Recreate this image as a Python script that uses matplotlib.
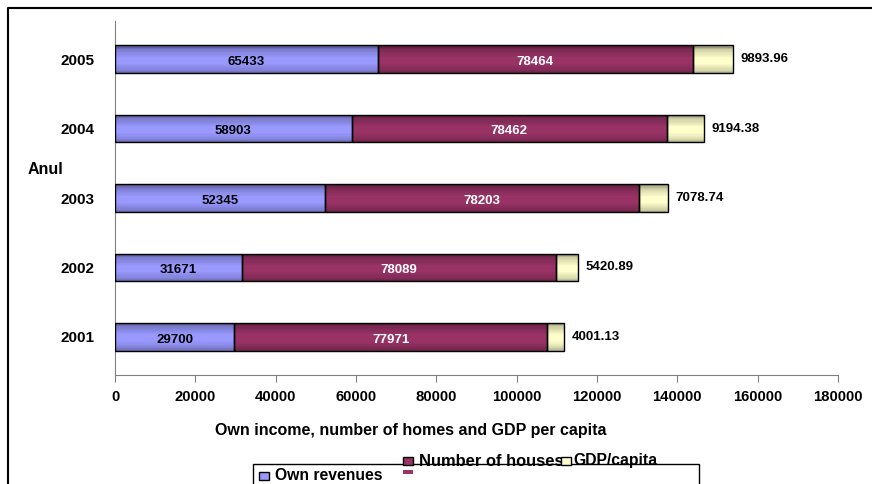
import matplotlib

matplotlib.use("Agg")
import matplotlib.pyplot as plt
import numpy as np
from matplotlib.lines import Line2D
from matplotlib.patches import Rectangle
from matplotlib.colors import to_rgb

plt.rcParams["font.family"] = ["Liberation Sans", "DejaVu Sans"]
plt.rcParams["font.weight"] = "bold"

years = ["2001", "2002", "2003", "2004", "2005"]
own_revenues = [29700, 31671, 52345, 58903, 65433]
houses = [77971, 78089, 78203, 78462, 78464]
gdp_capita = [4001.13, 5420.89, 7078.74, 9194.38, 9893.96]
series_names = ["Own revenues", "Number of houses", "GDP/capita"]
colors = ["#9999FF", "#993366", "#FFFFCC"]
x_ticks = [0, 20000, 40000, 60000, 80000, 100000, 120000, 140000, 160000, 180000]

W, H = 872, 484
fig = plt.figure(figsize=(W / 100, H / 100), dpi=100)
ax = fig.add_axes([115 / W, 1 - 375 / H, (838 - 115) / W, (375 - 21) / H])

ypos = np.arange(len(years))
bar_h = 0.4
# vertical shading of the bars, top to bottom
n_strips = 24
t = np.linspace(0, 1, n_strips)
shade = np.interp(t, [0, 0.12, 0.45, 0.65, 0.9, 1.0], [0.5, 0.8, 1.0, 1.0, 0.85, 0.7])


def gradient_bar(x0, width, y, color):
    rgb = np.array(to_rgb(color))
    strip_h = bar_h / n_strips
    top = y + bar_h / 2
    for k in range(n_strips):
        ax.barh(top - (k + 0.5) * strip_h, width, left=x0, height=strip_h * 1.05,
                color=np.clip(rgb * shade[k], 0, 1), linewidth=0, zorder=3)
    ax.add_patch(Rectangle((x0, y - bar_h / 2), width, bar_h, fill=False,
                           edgecolor="black", linewidth=1.0, zorder=4))


for i, y in enumerate(ypos):
    a, b, c = own_revenues[i], houses[i], gdp_capita[i]
    gradient_bar(0, a, y, colors[0])
    gradient_bar(a, b, y, colors[1])
    gradient_bar(a + b, c, y, colors[2])
    ax.text(a / 2, y - 0.04, f"{a}", ha="center", va="center",
            fontsize=9.5, color="black", fontweight="bold", zorder=5)
    ax.text(a + b / 2, y - 0.04, f"{b}", ha="center", va="center",
            fontsize=9.5, color="white", fontweight="bold", zorder=5)
    ax.text(a + b + c + 2000, y, f"{c:.2f}", ha="left", va="center",
            fontsize=9.5, color="black", fontweight="bold", zorder=5)

ax.set_xlim(0, 180000)
ax.set_ylim(-0.55, 4.55)
ax.set_xticks(x_ticks)
ax.set_xticklabels([str(t) for t in x_ticks], fontsize=10.7, fontweight="bold")
ax.set_yticks(ypos)
ax.set_yticklabels(years, fontsize=11, fontweight="bold")
ax.tick_params(axis="y", length=0, pad=15)
ax.tick_params(axis="x", length=5, color="#808080", pad=6)
for side in ("top", "right"):
    ax.spines[side].set_visible(False)
for side in ("left", "bottom"):
    ax.spines[side].set_color("#808080")
fig.text(411 / W, 1 - 430 / H, "Own income, number of homes and GDP per capita",
         fontsize=11.5, fontweight="bold", ha="center", va="center")
fig.text(28 / W, 1 - 170 / H, "Anul", fontsize=11.5, fontweight="bold",
         ha="left", va="center")

# outer chart frame
fig.add_artist(Line2D([8 / W, 8 / W, 1.0], [0.0, 1 - 8 / H, 1 - 8 / H],
                      transform=fig.transFigure, color="black", linewidth=1.5))

# legend box (cut by the bottom edge)
fig.add_artist(Rectangle((253 / W, -0.05), (699 - 253) / W, 0.05 + 1 - 464 / H,
                         transform=fig.transFigure, fill=False,
                         edgecolor="black", linewidth=1.0))
legend_items = [(259, 476, 275, 11.3), (403, 461, 419, 11.9), (561, 461, 573, 11.3)]
for (mx, my, tx, fs), name, col in zip(legend_items, series_names, colors):
    fig.text(tx / W, 1 - my / H, name, fontsize=fs, fontweight="bold",
             ha="left", va="center")
    fig.add_artist(Rectangle((mx / W, 1 - (my + 4) / H), 10 / W, 8 / H,
                             transform=fig.transFigure, facecolor=col,
                             edgecolor="black", linewidth=1.0, zorder=5))
# stray swatch fragment under the second legend marker
fig.add_artist(Rectangle((403 / W, 1 - 474 / H), 10 / W, 4 / H,
                         transform=fig.transFigure, facecolor=colors[1],
                         linewidth=0))

fig.savefig("out.png", dpi=100)
